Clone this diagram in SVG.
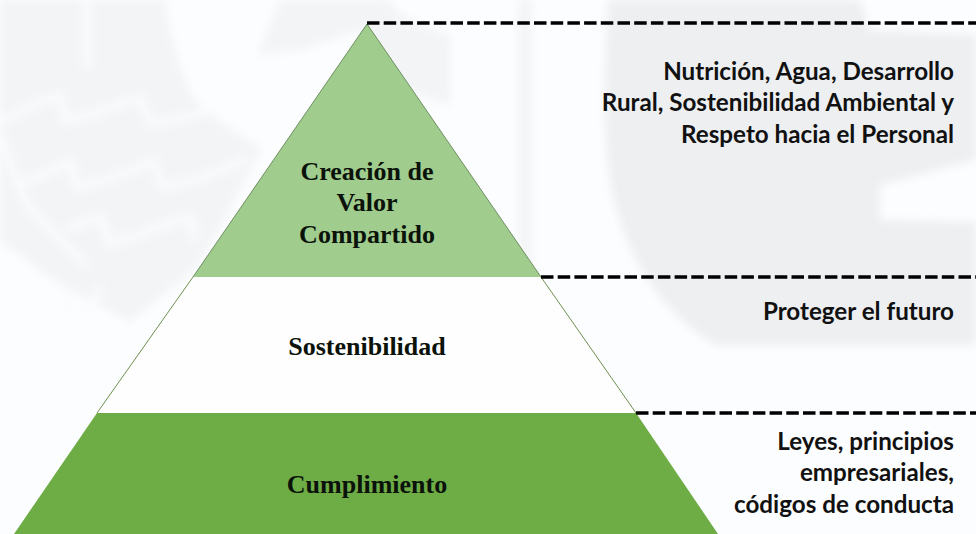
<svg xmlns="http://www.w3.org/2000/svg" width="976" height="534" viewBox="0 0 976 534">
<style>
.lbl{font-family:"Liberation Serif","Times New Roman",serif;font-weight:bold;font-size:26px;fill:#0b120a;text-anchor:middle}
.note{font-family:Lato,"Open Sans","Noto Sans",sans-serif;font-weight:bold;font-size:24.2px;fill:#111;text-anchor:end}
.dash{fill:none;stroke:#000;stroke-width:3.6;stroke-dasharray:12.5 4.2}
.wm{fill:#edeff1}
.wf{fill:#f3f4f6}
.wl{fill:none;stroke:#fbfcfd;stroke-width:7;stroke-linecap:round;stroke-linejoin:round}
</style>
<defs><filter id="b" x="-10%" y="-10%" width="120%" height="120%"><feGaussianBlur stdDeviation="4"/></filter></defs>
<rect width="976" height="534" fill="#fcfdfe"/>
<g id="watermark" filter="url(#b)">
<path class="wf" d="M0 0H165C172 40 180 75 195 100C215 120 240 135 262 148C240 190 220 230 198 266L130 322L60 285L0 240Z"/>
<path class="wf" d="M280 0H390C400 20 430 30 450 35V105C430 100 410 90 395 85L360 30L300 50L258 55Z"/>
<path class="wm" d="M608 0C605 70 602 130 610 180C620 240 650 305 715 345L976 345V222L880 220V185L976 160V35L870 30L860 0Z"/>
<rect class="wf" x="518" y="0" width="14" height="267"/>
<path class="wl" d="M0 122C25 110 40 100 60 96L65 120C90 118 115 105 140 98L150 122C175 122 195 115 215 108"/>
<path class="wl" d="M3 140C10 165 18 185 28 205C45 225 65 245 85 262"/>
<path class="wl" d="M25 182C45 175 60 165 72 162L75 186C100 185 130 170 155 162L162 186C190 185 220 170 245 160"/>
<path class="wl" d="M70 228C85 222 95 218 102 218L108 243C135 240 165 222 190 218L195 238"/>
<path class="wl" d="M87 0V65" stroke-width="5"/>
<path class="wl" d="M60 286L72 312M100 290L85 318" stroke-width="4"/>
</g>
<g id="pyramid">
<g id="node-creacion">
<path d="M367 24L193 277H541Z" fill="#a0cc8d"/>
<path d="M193 277L367 24L541 277" fill="none" stroke="#6f8f62" stroke-width="1"/>
<text class="lbl" x="367" y="180">Creación de</text>
<text class="lbl" x="367" y="211">Valor</text>
<text class="lbl" x="367" y="243">Compartido</text>
</g>
<g id="node-sostenibilidad">
<path d="M193 277H541L636 413H97Z" fill="#fefefe"/>
<path d="M193 277L97 413M541 277L636 413" fill="none" stroke="#6f8f4f" stroke-width="1"/>
<text class="lbl" x="367" y="355">Sostenibilidad</text>
</g>
<g id="node-cumplimiento">
<path d="M97 413H636L718 534H14Z" fill="#6eac46"/>
<text class="lbl" x="367" y="493">Cumplimiento</text>
</g>
</g>
<g id="connectors">
<path class="dash" d="M367 23H976"/>
<path class="dash" d="M541 277H976"/>
<path class="dash" d="M636 413H976"/>
</g>
<g id="notes">
<text class="note" x="954" y="80">Nutrición, Agua, Desarrollo</text>
<text class="note" x="954" y="111">Rural, Sostenibilidad Ambiental y</text>
<text class="note" x="954" y="143">Respeto hacia el Personal</text>
<text class="note" x="954" y="320">Proteger el futuro</text>
<text class="note" x="954" y="450">Leyes, principios</text>
<text class="note" x="954" y="481">empresariales,</text>
<text class="note" x="954" y="513">códigos de conducta</text>
</g>
</svg>
